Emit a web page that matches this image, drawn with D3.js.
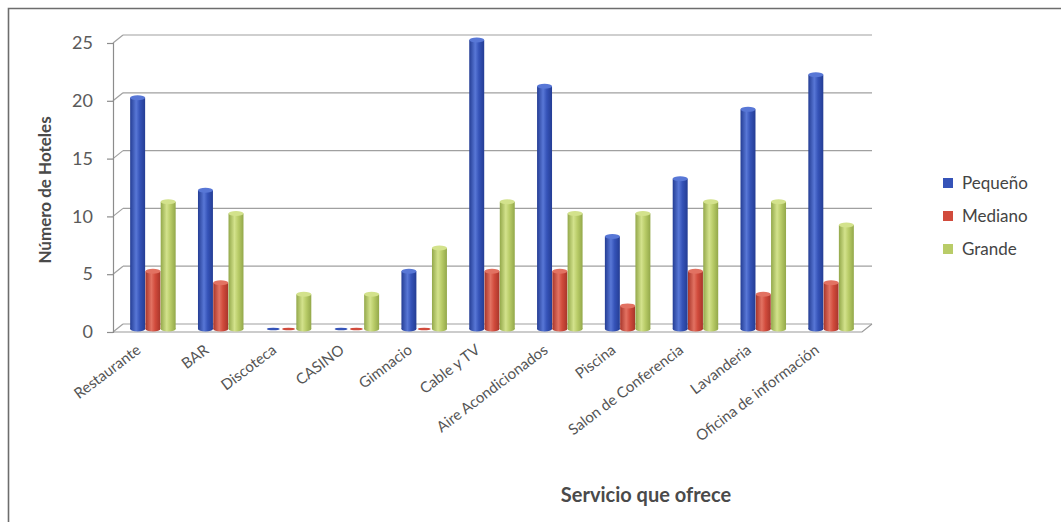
<!DOCTYPE html>
<html>
<head>
<meta charset="utf-8">
<script src="https://cdn.jsdelivr.net/npm/d3@7"></script>
<style>
  html, body { margin: 0; padding: 0; background: #fff; }
  svg { display: block; }
  text { font-family: Lato, "Open Sans", sans-serif; }
</style>
</head>
<body>
<svg id="chart" width="1061" height="522"></svg>
<script>
// Servicios ofrecidos por tamaño de hotel
const categories = ["Restaurante", "BAR", "Discoteca", "CASINO", "Gimnacio", "Cable y TV",
  "Aire Acondicionados", "Piscina", "Salon de Conferencia", "Lavanderia", "Oficina de información"];
const seriesNames = ["Pequeño", "Mediano", "Grande"];
const pequeno = [20, 12, 0, 0, 5, 25, 21, 8, 13, 19, 22];
const mediano = [5, 4, 0, 0, 0, 5, 5, 2, 5, 3, 4];
const grande  = [11, 10, 3, 3, 7, 11, 10, 10, 11, 11, 9];
const yTicks = [0, 5, 10, 15, 20, 25];

const seriesValues = [pequeno, mediano, grande];
const colors = [
  { base: "#3553b8", dark: "#243d94", light: "#5877d6" },
  { base: "#d14b3c", dark: "#a8352a", light: "#e27262" },
  { base: "#b9cc68", dark: "#93a84a", light: "#d3e28c" }
];

const svg = d3.select("#chart");

// 3D depth offset between the front axis and the back wall
const depthX = 10, depthY = -8;

// Back wall scale
const yBack = d3.scaleLinear().domain([0, 25]).range([324, 35]);
const yFront = v => yBack(v) - depthY;
const yBar = v => yBack(v) + 5;

const x0 = d3.scaleBand().domain(categories).range([119, 865]).paddingInner(0.32).paddingOuter(0.16);
const x1 = d3.scaleBand().domain(seriesNames).range([0, x0.bandwidth()]).padding(0.02);

// Frame
svg.append("path")
  .attr("d", "M8.5,522 L8.5,8.5 L1061,8.5")
  .attr("fill", "none").attr("stroke", "#6d6d6d").attr("stroke-width", 1.6);

const defs = svg.append("defs");
colors.forEach((c, i) => {
  const g = defs.append("linearGradient").attr("id", "cyl" + i).attr("x1", "0").attr("x2", "1").attr("y1", "0").attr("y2", "0");
  g.append("stop").attr("offset", "0%").attr("stop-color", c.dark);
  g.append("stop").attr("offset", "40%").attr("stop-color", c.light);
  g.append("stop").attr("offset", "65%").attr("stop-color", c.base);
  g.append("stop").attr("offset", "100%").attr("stop-color", c.dark);
});

const xLeftFront = 113, xLeftBack = xLeftFront + depthX, xRightBack = 872;

// Back-wall gridlines plus side-wall connectors
const grid = svg.append("g");
yTicks.forEach(t => {
  grid.append("line")
    .attr("x1", xLeftBack).attr("x2", xRightBack)
    .attr("y1", yBack(t)).attr("y2", yBack(t))
    .attr("stroke", "#a0a0a0").attr("stroke-width", 1.2);
  grid.append("line")
    .attr("x1", xLeftFront).attr("x2", xLeftBack)
    .attr("y1", yFront(t)).attr("y2", yBack(t))
    .attr("stroke", "#a0a0a0").attr("stroke-width", 1.2);
});

// Floor front edge
grid.append("path")
  .attr("d", `M${xLeftFront},${yFront(0)} L${xRightBack - depthX},${yFront(0)} L${xRightBack},${yBack(0)}`)
  .attr("fill", "none").attr("stroke", "#9a9a9a").attr("stroke-width", 1.2);

// Front y axis
const yAxisG = svg.append("g").attr("transform", `translate(${xLeftFront},${-depthY})`)
  .call(d3.axisLeft(yBack).tickValues(yTicks).tickSize(6).tickPadding(14));
yAxisG.select(".domain").attr("stroke", "#8c8c8c").attr("stroke-width", 1.2);
yAxisG.selectAll(".tick line").attr("stroke", "#8c8c8c").attr("stroke-width", 1.2);
yAxisG.selectAll(".tick text").attr("fill", "#5a5a5a").style("font-size", "18px")
  .style("font-family", "Lato, sans-serif");

// Cylinder columns
const groups = svg.append("g").selectAll("g")
  .data(categories)
  .join("g")
  .attr("transform", d => `translate(${x0(d)},0)`);

const ry = 2.5;
groups.each(function(cat, ci) {
  const g = d3.select(this);
  seriesValues.forEach((vals, si) => {
    const v = vals[ci];
    const bx = x1(seriesNames[si]);
    const bw = x1.bandwidth();
    const cx = bx + bw / 2;
    if (v === 0) {
      g.append("ellipse")
        .attr("cx", cx).attr("cy", yBar(0))
        .attr("rx", bw / 2 - 1).attr("ry", 1.3)
        .attr("fill", colors[si].base);
      return;
    }
    const top = yBar(v), bottom = yBar(0);
    g.append("ellipse").attr("cx", cx).attr("cy", bottom).attr("rx", bw / 2).attr("ry", ry)
      .attr("fill", `url(#cyl${si})`);
    g.append("rect").attr("x", bx).attr("y", top).attr("width", bw).attr("height", bottom - top)
      .attr("fill", `url(#cyl${si})`);
    g.append("ellipse").attr("cx", cx).attr("cy", top).attr("rx", bw / 2).attr("ry", ry)
      .attr("fill", colors[si].light);
  });
});

// Category labels
const labelsG = svg.append("g");
categories.forEach(cat => {
  const cx = x0(cat) + x0.bandwidth() / 2 - 11;
  labelsG.append("text")
    .attr("transform", `translate(${cx},${352}) rotate(-37)`)
    .attr("text-anchor", "end")
    .attr("fill", "#555")
    .style("font-size", "15px")
    .text(cat);
});

// Axis titles
svg.append("text")
  .attr("transform", "translate(51,190) rotate(-90)")
  .attr("text-anchor", "middle")
  .attr("fill", "#4a4a4a")
  .style("font-size", "17px").style("font-weight", "bold")
  .text("Número de Hoteles");

svg.append("text")
  .attr("x", 646).attr("y", 502)
  .attr("text-anchor", "middle")
  .attr("fill", "#4a4a4a")
  .style("font-size", "20px").style("font-weight", "bold")
  .text("Servicio que ofrece");

// Legend
const legend = svg.append("g").attr("transform", "translate(943,0)");
seriesNames.forEach((name, i) => {
  const ly = 183 + i * 33;
  legend.append("rect").attr("x", 0).attr("y", ly - 5).attr("width", 10).attr("height", 10)
    .attr("fill", colors[i].base);
  legend.append("text").attr("x", 19).attr("y", ly + 6)
    .attr("fill", "#444").style("font-size", "17px").text(name);
});
</script>
</body>
</html>
